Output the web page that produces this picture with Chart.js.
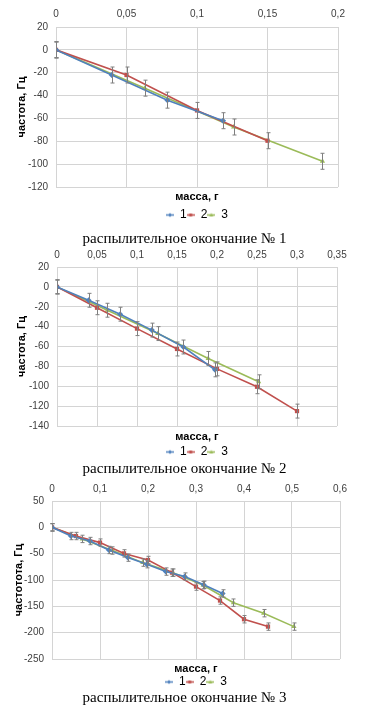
<!DOCTYPE html>
<html>
<head>
<meta charset="utf-8">
<script src="https://cdn.jsdelivr.net/npm/chart.js@4.4.1/dist/chart.umd.min.js"></script>
<style>
  html, body { margin: 0; padding: 0; background: #fff; }
  body { width: 369px; height: 709px; position: relative; overflow: hidden; }
  .box { position: absolute; left: 0; width: 369px; }
  .caption { position: absolute; left: 0; width: 369px; text-align: center; font-family: "Liberation Serif", serif; font-size: 15px; line-height: 18px; color: #000; }
</style>
</head>
<body>
<div class="box" style="top:0;height:231px"><canvas id="chart1"></canvas></div>
<div class="box" style="top:242px;height:226px"><canvas id="chart2"></canvas></div>
<div class="box" style="top:476px;height:222px"><canvas id="chart3"></canvas></div>
<div class="caption" style="top:229px">распылительное окончание № 1</div>
<div class="caption" style="top:459px">распылительное окончание № 2</div>
<div class="caption" style="top:688px">распылительное окончание № 3</div>

<script>
// серии: 1, 2, 3
const seriesLabels = ['1', '2', '3'];
const errorValue = 7; // ± Гц

// окончание № 1
const mass1_s1 = [0, 0.0395, 0.079, 0.1185];
const freq1_s1 = [0, -22, -44, -62];
const mass1_s2 = [0, 0.05, 0.1, 0.15];
const freq1_s2 = [0, -22, -53, -79.5];
const mass1_s3 = [0, 0.063, 0.126, 0.189];
const freq1_s3 = [0, -33.5, -67.5, -97.5];

// окончание № 2
const mass2_s1 = [0, 0.0395, 0.079, 0.1185, 0.158, 0.1975];
const freq2_s1 = [0, -13.5, -27.5, -43.5, -60.5, -83.5];
const mass2_s2 = [0, 0.05, 0.1, 0.15, 0.2, 0.25, 0.3];
const freq2_s2 = [0, -21, -42, -62.5, -82.5, -100.5, -125];
const mass2_s3 = [0, 0.063, 0.126, 0.189, 0.252];
const freq2_s3 = [0, -23.5, -47, -72, -95.5];

// окончание № 3
const mass3_s1 = [0, 0.0395, 0.079, 0.1185, 0.158, 0.1975, 0.237, 0.2765, 0.316, 0.3555];
const freq3_s1 = [0, -16.5, -26, -43, -57.5, -70, -84, -93.5, -109, -125.5];
const mass3_s2 = [0, 0.05, 0.1, 0.15, 0.2, 0.25, 0.3, 0.35, 0.4, 0.45];
const freq3_s2 = [0, -16.5, -29, -49.5, -62, -86, -112.5, -139, -174.5, -188.5];
const mass3_s3 = [0, 0.063, 0.126, 0.189, 0.252, 0.315, 0.378, 0.441, 0.504];
const freq3_s3 = [0, -22, -44, -67, -86, -110, -143, -163, -188.5];

// оси
const xTicks1 = { max: 0.2, step: 0.05 };
const yTicks1 = { min: -120, max: 20, step: 20 };
const xTicks2 = { max: 0.35, step: 0.05 };
const yTicks2 = { min: -140, max: 20, step: 20 };
const xTicks3 = { max: 0.6, step: 0.1 };
const yTicks3 = { min: -250, max: 50, step: 50 };

const colors = ['#4f81bd', '#c0504d', '#9bbb59'];
const pointStyles = ['rectRot', 'rect', 'triangle'];
const FONT = '"Liberation Sans", Arial, sans-serif';
const GRID = '#d4d4d4';

// маленькая иконка легенды: линия с маркером
function legendIcon(color, style) {
    const c = document.createElement('canvas');
    c.width = 8; c.height = 7;
    const g = c.getContext('2d');
    g.strokeStyle = color; g.fillStyle = color; g.lineWidth = 1.5;
    g.beginPath(); g.moveTo(0, 3.5); g.lineTo(8, 3.5); g.stroke();
    g.beginPath();
    if (style === 'rect') g.rect(2.5, 2, 3, 3);
    else if (style === 'rectRot') { g.moveTo(4, 1.5); g.lineTo(6, 3.5); g.lineTo(4, 5.5); g.lineTo(2, 3.5); }
    else { g.moveTo(4, 1.5); g.lineTo(6, 5); g.lineTo(2, 5); }
    g.fill();
    return c;
}

const errorBars = {
    id: 'errorBars',
    afterDatasetsDraw(chart) {
        const { ctx, scales: { x, y } } = chart;
        ctx.save();
        ctx.strokeStyle = '#7f7f7f';
        ctx.lineWidth = 1;
        chart.data.datasets.forEach(ds => {
            ds.data.forEach(p => {
                const px = Math.round(x.getPixelForValue(p.x)) + 0.5;
                const top = y.getPixelForValue(p.y + errorValue);
                const bot = y.getPixelForValue(p.y - errorValue);
                ctx.beginPath();
                ctx.moveTo(px, top); ctx.lineTo(px, bot);
                ctx.moveTo(px - 2, top); ctx.lineTo(px + 2, top);
                ctx.moveTo(px - 2, bot); ctx.lineTo(px + 2, bot);
                ctx.stroke();
            });
        });
        ctx.restore();
    }
};

function makeChart(id, masses, freqs, xT, yT, yTitle, lay) {
    const datasets = masses.map((m, i) => ({
        label: seriesLabels[i],
        data: m.map((v, k) => ({ x: v, y: freqs[i][k] })),
        showLine: true,
        borderColor: colors[i],
        backgroundColor: colors[i],
        borderWidth: 1.6,
        pointStyle: pointStyles[i],
        pointRadius: 3,
        pointBorderWidth: 0
    }));

    new Chart(document.getElementById(id), {
        type: 'scatter',
        data: { datasets: datasets },
        plugins: [errorBars],
        options: {
            responsive: true,
            maintainAspectRatio: false,
            animation: false,
            layout: { padding: { left: lay.padL, right: lay.padR, top: 0, bottom: 0 } },
            plugins: {
                tooltip: { enabled: false },
                legend: {
                    position: 'bottom',
                    fullSize: false,
                    labels: {
                        font: { family: FONT, size: 12 },
                        color: '#000',
                        padding: 0,
                        usePointStyle: true,
                        pointStyleWidth: 8,
                        generateLabels: chart => chart.data.datasets.map((ds, i) => ({
                            text: ds.label,
                            pointStyle: legendIcon(colors[i], pointStyles[i]),
                            fillStyle: colors[i],
                            strokeStyle: colors[i],
                            lineWidth: 0,
                            datasetIndex: i
                        }))
                    }
                }
            },
            scales: {
                x: {
                    type: 'linear',
                    position: 'top',
                    min: 0, max: xT.max,
                    ticks: {
                        stepSize: xT.step,
                        padding: lay.xPad,
                        color: '#404040',
                        font: { family: FONT, size: 10 },
                        callback: v => Number(v.toFixed(2)).toString().replace('.', ',')
                    },
                    grid: { color: GRID, drawTicks: false },
                    border: { color: GRID },
                    afterFit: s => { s.height = lay.plotTop; }
                },
                x2: {
                    type: 'linear',
                    position: 'bottom',
                    min: 0, max: xT.max,
                    ticks: { display: false },
                    grid: { display: false },
                    border: { display: false },
                    title: {
                        display: true,
                        text: 'масса, г',
                        color: '#000',
                        padding: { top: 0, bottom: lay.titlePad },
                        font: { family: FONT, size: 11, weight: 'bold' }
                    },
                    afterFit: s => { s.height = lay.h2; }
                },
                y: {
                    position: 'left',
                    min: yT.min, max: yT.max,
                    ticks: {
                        stepSize: yT.step,
                        padding: 8,
                        color: '#404040',
                        font: { family: FONT, size: 10 }
                    },
                    grid: { color: GRID, drawTicks: false },
                    border: { color: GRID },
                    title: {
                        display: true,
                        text: yTitle,
                        color: '#000',
                        padding: 0,
                        font: { family: FONT, size: 11, weight: 'bold' }
                    },
                    afterFit: s => { s.width = lay.yW; }
                }
            }
        }
    });
}

makeChart('chart1',
    [mass1_s1, mass1_s2, mass1_s3], [freq1_s1, freq1_s2, freq1_s3],
    xTicks1, yTicks1, 'частота, Гц',
    { padL: 15, padR: 31, yW: 41, plotTop: 27, xPad: 7, h2: 22, titlePad: 5 });

makeChart('chart2',
    [mass2_s1, mass2_s2, mass2_s3], [freq2_s1, freq2_s2, freq2_s3],
    xTicks2, yTicks2, 'частота, Гц',
    { padL: 15, padR: 32, yW: 42, plotTop: 25, xPad: 6, h2: 20, titlePad: 2 });

makeChart('chart3',
    [mass3_s1, mass3_s2, mass3_s3], [freq3_s1, freq3_s2, freq3_s3],
    xTicks3, yTicks3, 'частотота, Гц',
    { padL: 12, padR: 29, yW: 40, plotTop: 25, xPad: 6, h2: 17, titlePad: 0 });
</script>
</body>
</html>
